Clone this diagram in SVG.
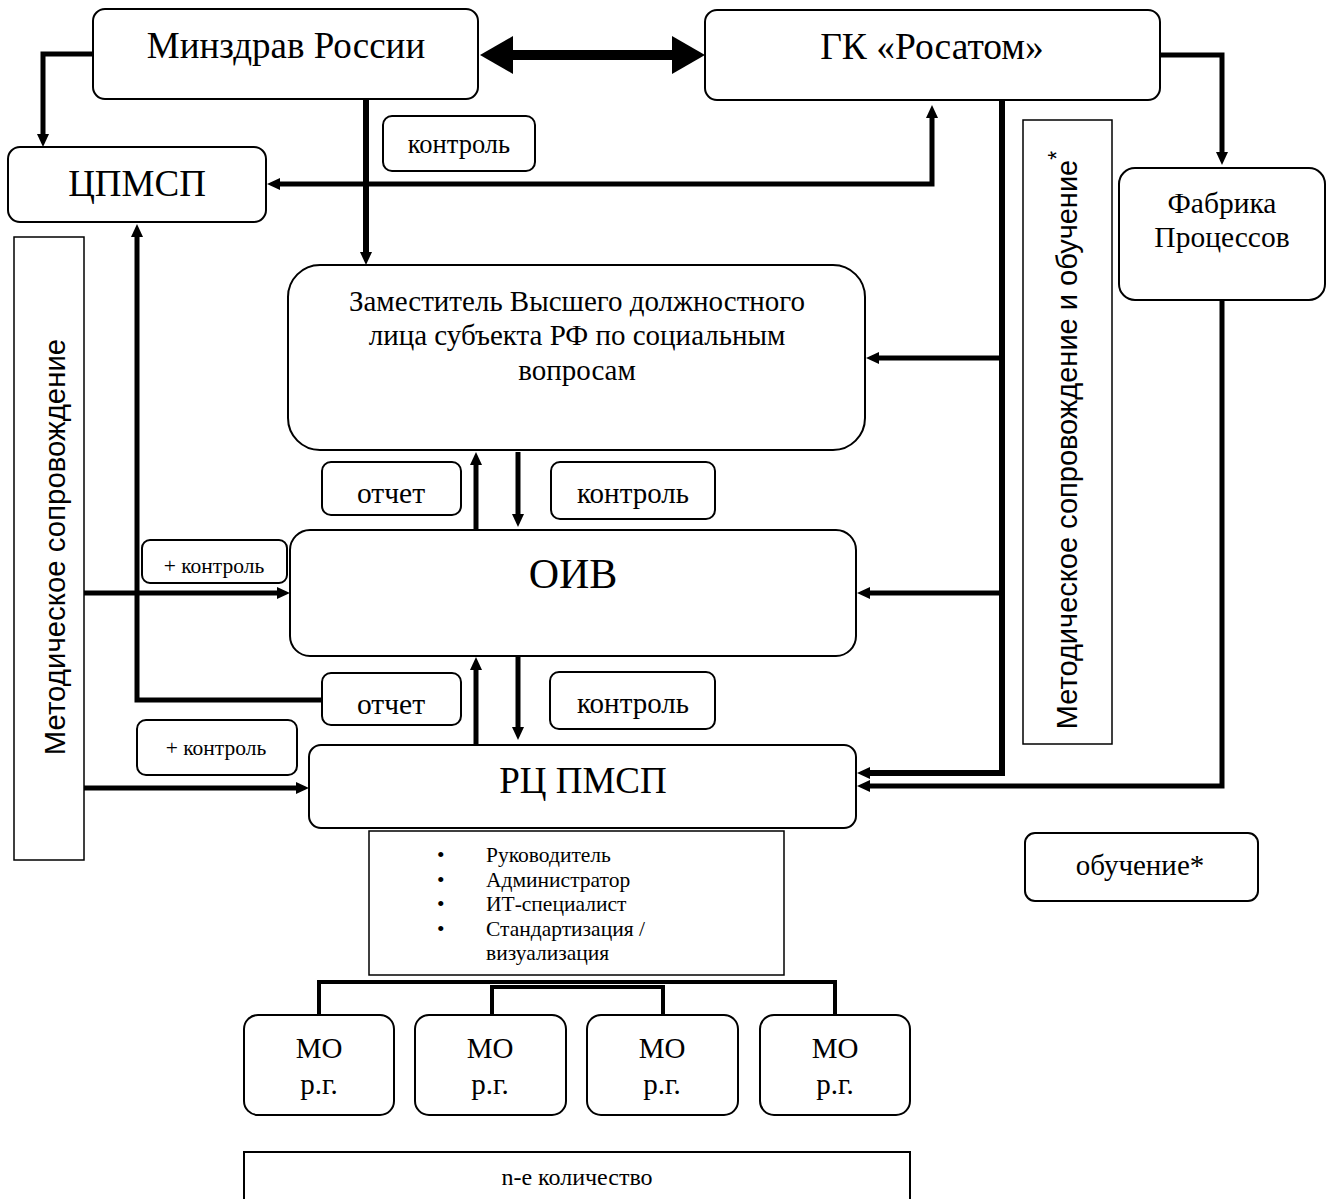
<svg xmlns="http://www.w3.org/2000/svg" width="1335" height="1199" viewBox="0 0 1335 1199">
<style>
.box{fill:#fff;stroke:#000;stroke-width:2}
.thin{fill:#fff;stroke:#000;stroke-width:1.5}
.t{font-family:"Liberation Serif","Times New Roman",serif;fill:#000;text-anchor:middle}
.s{font-family:"Liberation Sans",Arial,sans-serif;fill:#000;text-anchor:middle}
.c{fill:none;stroke:#000;stroke-width:5}
.a{marker-end:url(#ah)}
</style>
<defs>
<marker id="ah" markerUnits="userSpaceOnUse" markerWidth="14" markerHeight="14" refX="0" refY="7" orient="auto-start-reverse">
<path d="M0,1 L13,7 L0,13 z" fill="#000"/>
</marker>
<marker id="big" markerUnits="userSpaceOnUse" markerWidth="34" markerHeight="38" refX="0" refY="19" orient="auto-start-reverse">
<path d="M0,0 L33,19 L0,38 z" fill="#000"/>
</marker>
</defs>
<rect width="1335" height="1199" fill="#fff"/>
<g id="connectors">
<path class="c a" d="M93,54 H43 V134"/>
<path class="c a" d="M366,99 V252" style="stroke-width:6"/>
<path class="c a" d="M932,118 V184 H280" style="marker-start:url(#ah)"/>
<path class="c a" d="M1160,55 H1222 V152"/>
<path class="c a" d="M1222,300 V786 H870"/>
<path class="c a" d="M1002,100 V773 H870" style="stroke-width:6"/>
<path class="c a" d="M1002,358 H879"/>
<path class="c a" d="M1002,593 H870"/>
<path class="c a" d="M476,530 V465"/>
<path class="c a" d="M518,452 V514"/>
<path class="c a" d="M476,745 V670"/>
<path class="c a" d="M518,657 V727"/>
<path class="c a" d="M322,700 H137 V237"/>
<path class="c a" d="M84,593 H277"/>
<path class="c a" d="M84,788 H296"/>
<path class="c" d="M319,1015 V982 H835 V1015" style="stroke-width:4"/>
<path class="c" d="M492,1015 V987 H663 V1015" style="stroke-width:4"/>
<path d="M513,55 H672" stroke="#000" stroke-width="10" marker-start="url(#big)" marker-end="url(#big)"/>
</g>
<g id="minzdrav"><rect class="box" x="93" y="9" width="385" height="90" rx="12"/><text class="t" x="286" y="58" font-size="37">Минздрав России</text></g>
<g id="rosatom"><rect class="box" x="705" y="10" width="455" height="90" rx="12"/><text class="t" x="932" y="59" font-size="37.5">ГК «Росатом»</text></g>
<g id="cpmsp"><rect class="box" x="8" y="147" width="258" height="75" rx="12"/><text class="t" x="137" y="196" font-size="37">ЦПМСП</text></g>
<g id="label-control-top"><rect class="box" x="383" y="116" width="152" height="55" rx="9"/><text class="t" x="459" y="153" font-size="26.5">контроль</text></g>
<g id="fabrika"><rect class="box" x="1119" y="168" width="206" height="132" rx="16"/><text class="t" x="1222" y="213" font-size="29.5">Фабрика</text><text class="t" x="1222" y="247" font-size="29.5">Процессов</text></g>
<g id="metod-right"><rect class="thin" x="1023" y="120" width="89" height="624"/><text class="s" transform="translate(1077,440) rotate(-90)" font-size="29">Методическое сопровождение и обучение<tspan font-size="23" dy="-12">*</tspan></text></g>
<g id="metod-left"><rect class="thin" x="14" y="237" width="70" height="623"/><text class="s" transform="translate(65,547) rotate(-90)" font-size="29.4">Методическое сопровождение</text></g>
<g id="deputy"><rect class="box" x="288" y="265" width="577" height="185" rx="32"/>
<text class="t" x="577" y="311" font-size="29">Заместитель Высшего должностного</text>
<text class="t" x="577" y="345" font-size="29">лица субъекта РФ по социальным</text>
<text class="t" x="577" y="380" font-size="29">вопросам</text></g>
<g id="label-otchet-1"><rect class="box" x="322" y="462" width="139" height="53" rx="9"/><text class="t" x="391" y="503" font-size="29.5">отчет</text></g>
<g id="label-control-1"><rect class="box" x="551" y="462" width="164" height="57" rx="9"/><text class="t" x="633" y="503" font-size="29">контроль</text></g>
<g id="oiv"><rect class="box" x="290" y="530" width="566" height="126" rx="20"/><text class="t" x="573" y="588" font-size="42">ОИВ</text></g>
<g id="label-plus-control-1"><rect class="box" x="142" y="540" width="145" height="43" rx="8"/><text class="t" x="214" y="573" font-size="21.5">+ контроль</text></g>
<g id="label-otchet-2"><rect class="box" x="322" y="673" width="139" height="52" rx="9"/><text class="t" x="391" y="714" font-size="29.5">отчет</text></g>
<g id="label-control-2"><rect class="box" x="550" y="672" width="165" height="57" rx="9"/><text class="t" x="633" y="713" font-size="29">контроль</text></g>
<g id="label-plus-control-2"><rect class="box" x="137" y="720" width="160" height="55" rx="9"/><text class="t" x="216" y="755" font-size="21.5">+ контроль</text></g>
<g id="rcpmsp"><rect class="box" x="309" y="745" width="547" height="83" rx="12"/><text class="t" x="583" y="793" font-size="37">РЦ ПМСП</text></g>
<g id="roles"><rect class="thin" x="369" y="831" width="415" height="144"/>
<g font-family="Liberation Serif,serif" font-size="21.5" fill="#000">
<text x="437" y="862">•</text><text x="486" y="862">Руководитель</text>
<text x="437" y="887">•</text><text x="486" y="887">Администратор</text>
<text x="437" y="911">•</text><text x="486" y="911">ИТ-специалист</text>
<text x="437" y="936">•</text><text x="486" y="936">Стандартизация /</text>
<text x="486" y="960">визуализация</text></g></g>
<g id="obuchenie"><rect class="box" x="1025" y="833" width="233" height="68" rx="10"/><text class="t" x="1140" y="875" font-size="29">обучение*</text></g>
<g id="mo1"><rect class="box" x="244" y="1015" width="150" height="100" rx="14"/><text class="t" x="319" y="1058" font-size="29">МО</text><text class="t" x="319" y="1094" font-size="29">р.г.</text></g>
<g id="mo2"><rect class="box" x="415" y="1015" width="151" height="100" rx="14"/><text class="t" x="490" y="1058" font-size="29">МО</text><text class="t" x="490" y="1094" font-size="29">р.г.</text></g>
<g id="mo3"><rect class="box" x="587" y="1015" width="151" height="100" rx="14"/><text class="t" x="662" y="1058" font-size="29">МО</text><text class="t" x="662" y="1094" font-size="29">р.г.</text></g>
<g id="mo4"><rect class="box" x="760" y="1015" width="150" height="100" rx="14"/><text class="t" x="835" y="1058" font-size="29">МО</text><text class="t" x="835" y="1094" font-size="29">р.г.</text></g>
<g id="n-count"><rect class="box" x="244" y="1152" width="666" height="60"/><text class="t" x="577" y="1185" font-size="24">n-е количество</text></g>
</svg>
